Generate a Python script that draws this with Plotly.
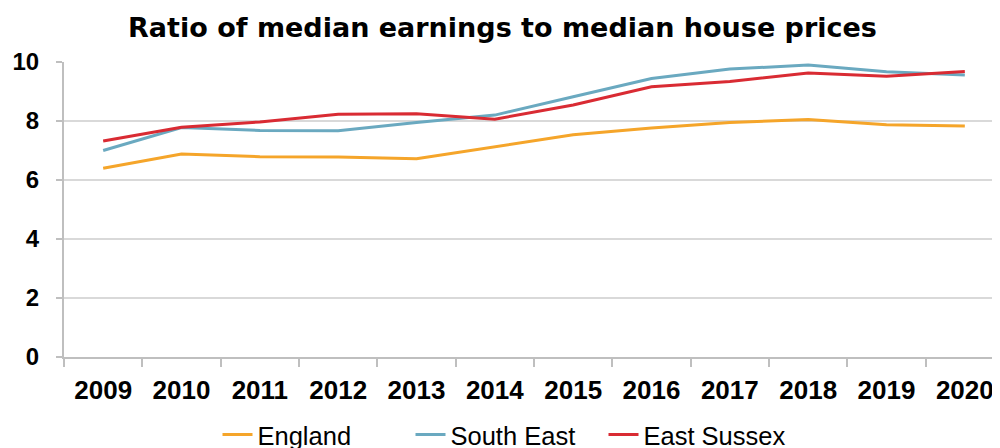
import plotly.graph_objects as go

years = ["2009", "2010", "2011", "2012", "2013", "2014", "2015", "2016", "2017", "2018", "2019", "2020"]
england = [6.40, 6.88, 6.79, 6.78, 6.72, 7.12, 7.53, 7.76, 7.95, 8.05, 7.87, 7.83]
south_east = [7.00, 7.78, 7.68, 7.67, 7.95, 8.20, 8.82, 9.44, 9.76, 9.90, 9.67, 9.56]
east_sussex = [7.32, 7.79, 7.97, 8.23, 8.25, 8.06, 8.54, 9.16, 9.34, 9.63, 9.52, 9.68]
y_ticks = [0, 2, 4, 6, 8, 10]

FONT = "Liberation Sans, Arial, sans-serif"
TITLE_FONT = "DejaVu Sans, Liberation Sans, Arial, sans-serif"

fig = go.Figure()
for name, vals, color in [
    ("England", england, "#F5A52A"),
    ("South East", south_east, "#6AA9C0"),
    ("East Sussex", east_sussex, "#D92B33"),
]:
    fig.add_trace(go.Scatter(x=years, y=vals, name=name, mode="lines",
                             line=dict(color=color, width=3), cliponaxis=False))

fig.update_layout(
    width=1000, height=448,
    margin=dict(l=56, r=4, t=54, b=99),
    paper_bgcolor="white", plot_bgcolor="white",
    title=dict(text="Ratio of median earnings to median house prices",
               font=dict(family=TITLE_FONT, size=27, color="black", weight="bold"),
               x=0.4945, xanchor="center", xref="container",
               y=1 - 20 / 448, yanchor="middle", yref="container", automargin=False),
    showlegend=True,
    legend=dict(orientation="h", xref="container", yref="container",
                x=0.2095, xanchor="left", y=1 - 427 / 448, yanchor="middle",
                font=dict(family=FONT, size=25.5, color="black"),
                entrywidth=148, entrywidthmode="pixels",
                itemwidth=30, tracegroupgap=0, bgcolor="rgba(0,0,0,0)"),
    xaxis=dict(type="category", range=[-0.5, 11.5], automargin=False,
               showline=True, linecolor="#BFBFBF", linewidth=2,
               ticks="outside", tickson="boundaries", ticklen=8, tickcolor="#BFBFBF", tickwidth=1.5,
               showgrid=False, ticklabelstandoff=9,
               tickfont=dict(family=FONT, size=26, color="black", weight="bold")),
    yaxis=dict(range=[0, 10], tickvals=y_ticks, automargin=False,
               showline=True, linecolor="#BFBFBF", linewidth=2,
               ticks="outside", ticklen=6, tickcolor="#BFBFBF", tickwidth=1.5,
               showgrid=True, gridcolor="#D9D9D9", gridwidth=1.5,
               zeroline=False, ticklabelstandoff=12,
               tickfont=dict(family=FONT, size=24, color="black", weight="bold")),
)

fig.write_html("out.html")
